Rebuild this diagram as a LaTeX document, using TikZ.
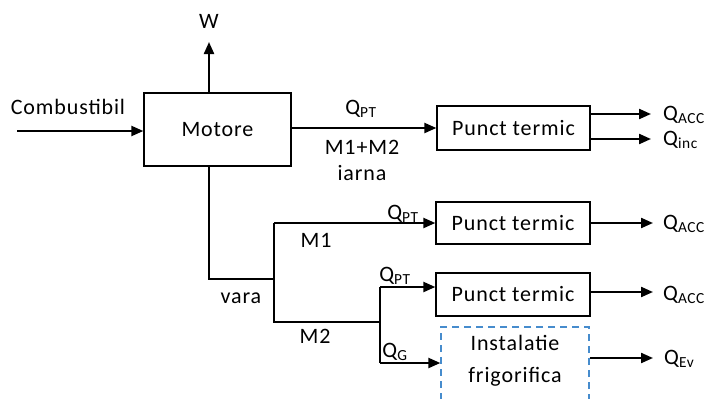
\documentclass[tikz,border=0pt]{standalone}
\usepackage{fontspec}
\setmainfont{Carlito}[LetterSpace=4]
\usetikzlibrary{arrows.meta}
\definecolor{dashblue}{RGB}{70,140,205}
\begin{document}
\begin{tikzpicture}[x=1pt,y=-1pt,
  every node/.style={font=\fontsize{22}{26}\selectfont, inner sep=0pt},
  box/.style={draw, line width=1.3pt, fill=white},
  ln/.style={line width=2.2pt},
  arr/.style={line width=2.2pt, -{Triangle[length=12pt,width=10pt]}},
  lbl/.style={anchor=base}]
\useasboundingbox (0,0) rectangle (705,399);
\clip (0,0) rectangle (705,399);
% boxes
\node[box, minimum width=147pt, minimum height=73pt] (motor) at (217.5,129.5) {Motore};
\node[box, minimum width=153pt, minimum height=44pt] (pt1) at (513.5,128) {Punct termic};
\node[box, minimum width=154pt, minimum height=42pt] (pt2) at (513,223) {Punct termic};
\node[box, minimum width=154pt, minimum height=43pt] (pt3) at (513,294.5) {Punct termic};
\node[draw=dashblue, line width=1.3pt, dash pattern=on 7pt off 5pt, minimum width=148pt, minimum height=82pt] (frig) at (515,368) {};
\node[lbl] (t1) at (515,350) {Instalatie};
\node[lbl] (t2) at (515,382) {frigorifica};
% coordinates
\coordinate (wtip) at (209,42);
\coordinate (cin) at (17,131);
\coordinate (j1) at (209,279);
\coordinate (j2) at (274,279);
\coordinate (j2t) at (274,223);
\coordinate (j2b) at (274,322);
\coordinate (j3) at (380,322);
\coordinate (j3t) at (380,287);
\coordinate (j3b) at (380,363);
\coordinate (o1a) at (651,114);
\coordinate (o1b) at (651,139);
\coordinate (o2) at (653,223);
\coordinate (o3) at (653,292);
\coordinate (o4) at (653,358);
% connectors
\draw[arr] (motor.north -| wtip) -- (wtip);
\draw[arr] (cin) -- (cin -| motor.west);
\draw[arr] (motor.east |- pt1.west) -- (pt1.west);
\draw[ln] (motor.south -| j1) -- (j1) -- (j2);
\draw[ln] (j2t) -- (j2b) -- (j3);
\draw[arr] (j2t) -- (pt2.west);
\draw[ln] (j3t) -- (j3b);
\draw[arr] (j3t) -- (pt3.west |- j3t);
\draw[arr] (j3b) -- (frig.west |- j3b);
\draw[arr] (pt1.east |- o1a) -- (o1a);
\draw[arr] (pt1.east |- o1b) -- (o1b);
\draw[arr] (pt2.east |- o2) -- (o2);
\draw[arr] (pt3.east |- o3) -- (o3);
\draw[arr] (frig.east |- o4) -- (o4);
% labels
\node[lbl] (lw) at (209,28) {W};
\node[lbl] (lc) at (68,114) {Combustibil};
\node[lbl] (lq1) at (361,114) {Q\textsubscript{PT}};
\node[lbl] (lm12) at (362,154) {M1+M2};
\node[lbl] (liarna) at (362,180) {iarna};
\node[lbl] (lq2) at (403,219) {Q\textsubscript{PT}};
\node[lbl] (lm1) at (316,247) {M1};
\node[lbl] (lvara) at (241,303) {vara};
\node[lbl] (lm2) at (315,343) {M2};
\node[lbl] (lq3) at (395,281) {Q\textsubscript{PT}};
\node[lbl] (lqg) at (395,357) {Q\textsubscript{G}};
\node[lbl, anchor=base west] (la1) at (663,120) {Q\textsubscript{ACC}};
\node[lbl, anchor=base west] (la2) at (663,145) {Q\textsubscript{inc}};
\node[lbl, anchor=base west] (la3) at (663,229) {Q\textsubscript{ACC}};
\node[lbl, anchor=base west] (la4) at (663,300) {Q\textsubscript{ACC}};
\node[lbl, anchor=base west] (la5) at (664,364) {Q\textsubscript{Ev}};
\end{tikzpicture}
\end{document}
